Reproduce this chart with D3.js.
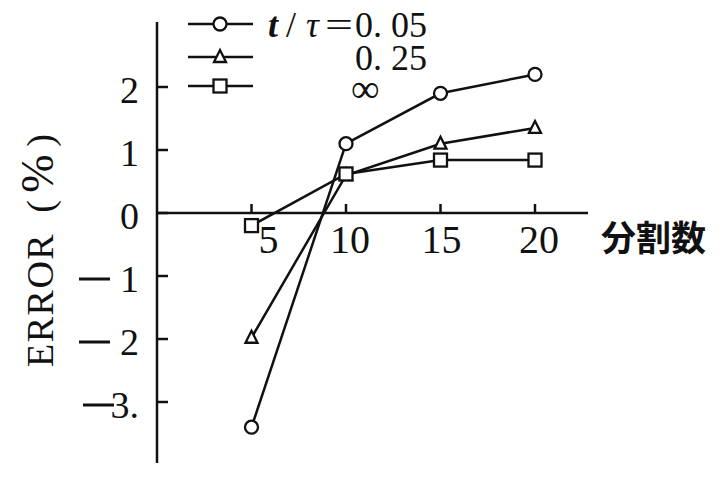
<!DOCTYPE html>
<html>
<head>
<meta charset="utf-8">
<script src="https://cdn.jsdelivr.net/npm/d3@7"></script>
<style>
  body { margin: 0; background: #fff; }
  svg text { font-family: "Liberation Serif", "DejaVu Serif", serif; fill: #111; }
</style>
</head>
<body>
<svg width="727" height="480"></svg>
<script>
    // values
    var divisions = [5, 10, 15, 20];
    var err005 = [-3.4, 1.1, 1.9, 2.2];
    var err025 = [-1.98, 0.6, 1.1, 1.35];
    var errInf = [-0.2, 0.62, 0.84, 0.84];
    var yTicks = [2, 1, 0, -1, -2, -3];
    var xTicks = [5, 10, 15, 20];
    var legendLabels = ["0. 05", "0. 25", "\u221e"];

    var svg = d3.select("svg");

    var x = d3.scaleLinear().domain([0, 20]).range([157, 535]);
    var y = d3.scaleLinear().domain([-3, 2]).range([402, 87]);

    var ink = "#111";

    // y axis, ticks pointing into the plot
    svg.append("line")
        .attr("x1", x(0)).attr("x2", x(0))
        .attr("y1", 22).attr("y2", 463)
        .attr("stroke", ink).attr("stroke-width", 2.5);
    svg.selectAll(".ytick").data(yTicks).enter()
        .append("line")
        .attr("x1", x(0)).attr("x2", x(0) + 11)
        .attr("y1", d => y(d)).attr("y2", d => y(d))
        .attr("stroke", ink).attr("stroke-width", 2.5);
    svg.selectAll(".ylab").data(yTicks).enter()
        .append("text")
        .attr("x", 139)
        .attr("y", d => y(d) + 16)
        .attr("text-anchor", "end")
        .attr("font-size", 38)
        .text(d => d < 0 ? (-d) + (d === -3 ? "." : "") : d);
    // the long minus signs stand apart from the digits
    svg.selectAll(".yminus").data(yTicks.filter(d => d < 0)).enter()
        .append("rect")
        .attr("x", d => d === -3 ? 83 : 79)
        .attr("y", d => y(d) + 1.5)
        .attr("width", 31)
        .attr("height", 3)
        .attr("fill", ink);

    // x axis at zero, ticks pointing up
    svg.append("line")
        .attr("x1", x(0)).attr("x2", 588)
        .attr("y1", y(0)).attr("y2", y(0))
        .attr("stroke", ink).attr("stroke-width", 2.5);
    svg.selectAll(".xtick").data(xTicks).enter()
        .append("line")
        .attr("x1", d => x(d)).attr("x2", d => x(d))
        .attr("y1", y(0)).attr("y2", y(0) - 9)
        .attr("stroke", ink).attr("stroke-width", 2.5);
    svg.selectAll(".xlab").data(xTicks).enter()
        .append("text")
        .attr("x", d => x(d) + (d === 5 ? 17 : d === 15 ? 1 : 4))
        .attr("y", y(0) + 40)
        .attr("text-anchor", "middle")
        .attr("font-size", 40)
        .text(d => d);

    svg.append("text")
        .attr("x", 601).attr("y", 251)
        .style("font-family", "'Noto Sans CJK JP', sans-serif")
        .attr("font-weight", "bold")
        .attr("font-size", 35)
        .text("分割数");

    var yl = svg.append("text")
        .attr("transform", "translate(53,367) rotate(-90)")
        .attr("font-size", 38)
        .attr("letter-spacing", 1.5);
    yl.append("tspan").text("ERROR");
    yl.append("tspan").attr("dx", 20).text("(");
    yl.append("tspan").attr("dx", 6).attr("font-size", 46).text("%");
    yl.append("tspan").attr("dx", 6).text(")");

    // series
    var series = [
        { vals: err005, shape: "circle" },
        { vals: err025, shape: "triangle" },
        { vals: errInf, shape: "square" }
    ];
    var line = d3.line().x(d => x(d[0])).y(d => y(d[1]));

    function drawMarker(g, shape, cx, cy) {
        if (shape === "circle") {
            g.append("circle").attr("cx", cx).attr("cy", cy).attr("r", 6.5)
                .attr("fill", "#fff").attr("stroke", ink).attr("stroke-width", 2.3);
        } else if (shape === "triangle") {
            g.append("path")
                .attr("d", "M" + cx + "," + (cy - 7) + "L" + (cx + 6) + "," + (cy + 5) + "L" + (cx - 6) + "," + (cy + 5) + "Z")
                .attr("fill", "#fff").attr("stroke", ink).attr("stroke-width", 2.3);
        } else {
            g.append("rect").attr("x", cx - 6.5).attr("y", cy - 6.5)
                .attr("width", 13).attr("height", 13)
                .attr("fill", "#fff").attr("stroke", ink).attr("stroke-width", 2.3);
        }
    }

    series.forEach(function (s) {
        var pts = divisions.map((d, i) => [d, s.vals[i]]);
        svg.append("path")
            .attr("d", line(pts))
            .attr("fill", "none").attr("stroke", ink).attr("stroke-width", 2.5);
    });
    series.forEach(function (s) {
        var g = svg.append("g");
        divisions.forEach(function (d, i) {
            drawMarker(g, s.shape, x(d), y(s.vals[i]));
        });
    });

    // legend
    var legendY = [24, 57, 86];
    series.forEach(function (s, i) {
        var g = svg.append("g");
        g.append("line")
            .attr("x1", 188).attr("x2", 253)
            .attr("y1", legendY[i]).attr("y2", legendY[i])
            .attr("stroke", ink).attr("stroke-width", 2.5);
        drawMarker(g, s.shape, 220, legendY[i]);
    });
    var lt = svg.append("text").attr("y", 37).attr("font-size", 36);
    lt.append("tspan").attr("x", 268).attr("font-style", "italic").attr("font-weight", "bold").text("t");
    lt.append("tspan").attr("x", 286).text("/");
    lt.append("tspan").attr("x", 306).attr("font-style", "italic").text("\u03c4");
    lt.append("tspan").attr("x", 325).attr("textLength", 28).attr("lengthAdjust", "spacingAndGlyphs").text("=");
    lt.append("tspan").attr("x", 355).text(legendLabels[0]);
    svg.append("text").attr("x", 355).attr("y", 70).attr("font-size", 36).text(legendLabels[1]);
    svg.append("text").attr("x", 351).attr("y", 102).attr("font-size", 40).text(legendLabels[2]);
</script>
</body>
</html>
